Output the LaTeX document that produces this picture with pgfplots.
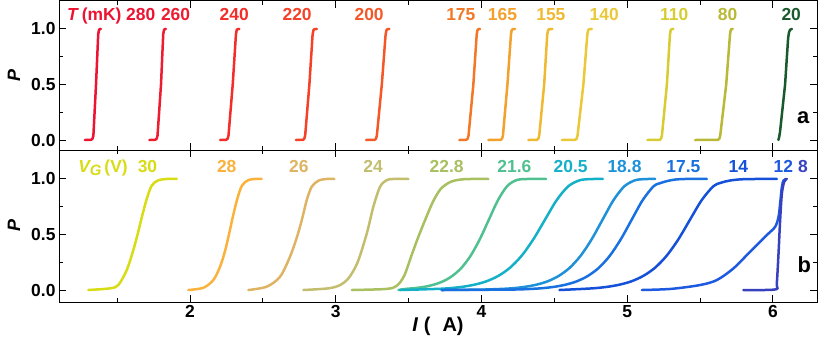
\documentclass[border=0pt]{standalone}
\usepackage{fontspec}
\setmainfont{Liberation Sans}
\usepackage{pgfplots}
\pgfplotsset{compat=1.18}

% curve colours, panel a (temperature) and panel b (gate voltage)
\definecolor{a280}{RGB}{236,20,50}
\definecolor{a260}{RGB}{238,28,48}
\definecolor{a240}{RGB}{242,45,42}
\definecolor{a220}{RGB}{244,65,40}
\definecolor{a200}{RGB}{245,88,40}
\definecolor{a175}{RGB}{242,120,40}
\definecolor{a165}{RGB}{243,160,45}
\definecolor{a155}{RGB}{240,185,50}
\definecolor{a140}{RGB}{235,200,55}
\definecolor{a110}{RGB}{215,205,50}
\definecolor{a80}{RGB}{185,185,55}
\definecolor{a20}{RGB}{25,90,45}
\definecolor{b30}{RGB}{215,220,20}
\definecolor{b28}{RGB}{250,178,60}
\definecolor{b26}{RGB}{222,180,100}
\definecolor{b24}{RGB}{195,190,110}
\definecolor{b228}{RGB}{168,192,96}
\definecolor{b216}{RGB}{80,192,144}
\definecolor{b205}{RGB}{20,176,200}
\definecolor{b188}{RGB}{30,145,216}
\definecolor{b175}{RGB}{25,112,224}
\definecolor{b14}{RGB}{20,80,216}
\definecolor{b12}{RGB}{30,90,224}
\definecolor{b8}{RGB}{55,65,192}

\newcommand{\lbl}{\fontsize{17.5}{20}\selectfont\bfseries}

\pgfplotsset{
  panel/.style={
    scale only axis, width=758bp,
    xmin=1.101, xmax=6.302,
    xtick={2,3,4,5,6}, minor xtick={1.5,2.5,3.5,4.5,5.5},
    ytick={0,0.5,1}, minor ytick={0.25,0.75},
    tick pos=both, tick align=inside,
    major tick length=7bp, minor tick length=4bp,
    every tick/.style={black, line width=1bp},
    axis line style={line width=1bp},
    /pgf/number format/assume math mode=true,
    tick label style={font=\lbl},
    yticklabel style={/pgf/number format/.cd, fixed, fixed zerofill, precision=1},
    ylabel={\textit{P}},
    ylabel style={font=\fontsize{18}{20}\selectfont\bfseries, at={(axis description cs:-0.0594,0.5)}, anchor=center},
    every axis plot/.append style={line width=2.5bp, line join=round, line cap=round, no markers},
  }
}

\begin{document}
\begin{tikzpicture}
\useasboundingbox (0,0) rectangle (830bp,-343bp);

% ---- panel a ----
\begin{axis}[panel, at={(59bp,-1bp)}, anchor=north west,
  height=149bp, ymin=-0.090, ymax=1.252, xticklabels={}]
\addplot[a280] coordinates {(1.279,0) (1.322,0.002) (1.331,0.012) (1.337,0.04) (1.355,0.5) (1.370,0.95) (1.375,0.99) (1.381,0.999) (1.389,1)};
\addplot[a260] coordinates {(1.721,0) (1.762,0.002) (1.771,0.012) (1.777,0.04) (1.801,0.5) (1.816,0.95) (1.821,0.99) (1.827,0.999) (1.835,1)};
\addplot[a240] coordinates {(2.206,0) (2.249,0.002) (2.258,0.012) (2.264,0.04) (2.293,0.5) (2.315,0.95) (2.320,0.99) (2.327,0.999) (2.338,1)};
\addplot[a220] coordinates {(2.727,0) (2.775,0.002) (2.784,0.012) (2.790,0.04) (2.819,0.5) (2.841,0.95) (2.847,0.99) (2.855,0.999) (2.870,1)};
\addplot[a200] coordinates {(3.208,0) (3.267,0.002) (3.276,0.012) (3.282,0.04) (3.316,0.5) (3.342,0.95) (3.348,0.99) (3.355,0.999) (3.368,1)};
\addplot[a175] coordinates {(3.848,0) (3.896,0.002) (3.905,0.012) (3.911,0.04) (3.944,0.5) (3.967,0.95) (3.972,0.99) (3.979,0.999) (3.990,1)};
\addplot[a165] coordinates {(4.047,0) (4.132,0.002) (4.141,0.012) (4.147,0.04) (4.178,0.5) (4.202,0.95) (4.207,0.99) (4.215,0.999) (4.230,1)};
\addplot[a155] coordinates {(4.322,0) (4.381,0.002) (4.390,0.012) (4.396,0.04) (4.430,0.5) (4.451,0.95) (4.457,0.99) (4.466,0.999) (4.486,1)};
\addplot[a140] coordinates {(4.551,0) (4.644,0.002) (4.653,0.012) (4.659,0.04) (4.699,0.5) (4.726,0.95) (4.732,0.99) (4.741,0.999) (4.757,1)};
\addplot[a110] coordinates {(5.138,0) (5.223,0.002) (5.232,0.012) (5.238,0.04) (5.272,0.5) (5.293,0.95) (5.298,0.99) (5.305,0.999) (5.317,1)};
\addplot[a80] coordinates {(5.466,0) (5.623,0.002) (5.632,0.012) (5.638,0.04) (5.679,0.5) (5.705,0.95) (5.710,0.99) (5.716,0.999) (5.724,1)};
\addplot[a20] coordinates {(6.037,0) (6.042,0.025) (6.048,0.07) (6.083,0.5) (6.104,0.92) (6.110,0.97) (6.117,0.993) (6.130,1)};

\node[text=a280, font=\lbl, anchor=base] at (axis cs:1.343,1.072) {\textit{T}\,(mK)};
\node[text=a280, font=\lbl, anchor=base] at (axis cs:1.662,1.072) {280};
\node[text=a260, font=\lbl, anchor=base] at (axis cs:1.901,1.072) {260};
\node[text=a240, font=\lbl, anchor=base] at (axis cs:2.303,1.072) {240};
\node[text=a220, font=\lbl, anchor=base] at (axis cs:2.735,1.072) {220};
\node[text=a200, font=\lbl, anchor=base] at (axis cs:3.229,1.072) {200};
\node[text=a175, font=\lbl, anchor=base] at (axis cs:3.858,1.072) {175};
\node[text=a165, font=\lbl, anchor=base] at (axis cs:4.144,1.072) {165};
\node[text=a155, font=\lbl, anchor=base] at (axis cs:4.476,1.072) {155};
\node[text=a140, font=\lbl, anchor=base] at (axis cs:4.842,1.072) {140};
\node[text=a110, font=\lbl, anchor=base] at (axis cs:5.322,1.072) {110};
\node[text=a80, font=\lbl, anchor=base] at (axis cs:5.688,1.072) {80};
\node[text=a20, font=\lbl, anchor=base] at (axis cs:6.125,1.072) {20};
\node[font=\fontsize{22}{24}\selectfont\bfseries] at (axis cs:6.208,0.20) {a};
\end{axis}

% ---- panel b ----
\begin{axis}[panel, at={(59bp,-150bp)}, anchor=north west,
  height=152bp, ymin=-0.108, ymax=1.261,
  every axis plot/.append style={smooth},
  xlabel={\textit{I} (\phantom{μ}A)},
  xlabel style={font=\fontsize{20}{22}\selectfont\bfseries, at={(axis description cs:0.5,-0.197)}, anchor=base}]
\addplot[b30] coordinates {(1.302,0) (1.451,0.015) (1.508,0.045) (1.566,0.18) (1.611,0.36) (1.640,0.50) (1.670,0.66) (1.703,0.82) (1.737,0.94) (1.782,0.988) (1.840,1) (1.909,1)};
\addplot[b28] coordinates {(1.988,0) (2.091,0.02) (2.160,0.09) (2.206,0.21) (2.240,0.35) (2.267,0.50) (2.294,0.66) (2.322,0.81) (2.356,0.94) (2.400,0.99) (2.446,1) (2.492,1)};
\addplot[b26] coordinates {(2.400,0) (2.526,0.03) (2.618,0.12) (2.686,0.30) (2.732,0.47) (2.767,0.63) (2.801,0.81) (2.835,0.93) (2.881,0.985) (2.938,1) (2.990,1)};
\addplot[b24] coordinates {(2.778,0) (2.950,0.015) (3.030,0.045) (3.090,0.11) (3.150,0.25) (3.213,0.51) (3.258,0.75) (3.304,0.93) (3.350,0.99) (3.395,1) (3.498,1)};
\addplot[b228] coordinates {(3.110,0) (3.350,0.01) (3.420,0.04) (3.470,0.13) (3.522,0.32) (3.567,0.48) (3.613,0.63) (3.665,0.79) (3.720,0.91) (3.790,0.975) (3.880,0.998) (4.047,1)};
\addplot[b216] coordinates {(3.430,0) (3.4875,0.011) (3.550,0.018) (3.6125,0.030) (3.675,0.049) (3.7375,0.079) (3.800,0.127) (3.8625,0.200) (3.925,0.308) (3.9875,0.455) (4.050,0.632) (4.1125,0.808) (4.175,0.934) (4.2375,0.989) (4.300,0.9994) (4.443,1)};
\addplot[b205] coordinates {(3.441,0) (3.555,0.004) (3.715,0.011) (3.795,0.018) (3.875,0.030) (3.955,0.049) (4.035,0.079) (4.115,0.127) (4.195,0.200) (4.275,0.308) (4.355,0.455) (4.435,0.632) (4.515,0.808) (4.595,0.934) (4.675,0.989) (4.755,0.9994) (4.832,1)};
\addplot[b188] coordinates {(3.727,0) (4.005,0.004) (4.155,0.011) (4.230,0.018) (4.305,0.030) (4.380,0.049) (4.455,0.079) (4.530,0.127) (4.605,0.200) (4.680,0.308) (4.755,0.455) (4.830,0.632) (4.905,0.808) (4.980,0.934) (5.055,0.989) (5.130,0.9994) (5.192,1)};
\addplot[b175] coordinates {(3.727,0) (4.205,0.004) (4.355,0.011) (4.430,0.018) (4.505,0.030) (4.580,0.049) (4.655,0.079) (4.730,0.127) (4.805,0.200) (4.880,0.308) (4.955,0.455) (5.030,0.632) (5.105,0.808) (5.180,0.934) (5.220,0.96) (5.270,0.98) (5.330,0.995) (5.400,1) (5.546,1)};
\addplot[b14] coordinates {(4.535,0) (4.710,0.011) (4.790,0.018) (4.870,0.030) (4.950,0.049) (5.030,0.079) (5.110,0.127) (5.190,0.200) (5.270,0.308) (5.350,0.455) (5.430,0.632) (5.510,0.808) (5.590,0.934) (5.640,0.965) (5.700,0.985) (5.780,0.997) (5.889,1) (6.026,1)};
\addplot[b12] coordinates {(5.100,0) (5.300,0.01) (5.500,0.045) (5.615,0.09) (5.729,0.195) (5.843,0.345) (5.958,0.495) (6.015,0.57) (6.038,0.66) (6.049,0.78) (6.061,0.93) (6.072,0.985) (6.090,1)};
\addplot[b8] coordinates {(5.797,0) (6.015,0.005) (6.026,0.06) (6.038,0.33) (6.049,0.63) (6.061,0.87) (6.077,0.975) (6.095,1)};

\node[text=b30, font=\lbl, anchor=base] at (axis cs:1.403,1.055) {\textit{V\raisebox{-0.3ex}{\fontsize{15}{15}\selectfont G}}\,(V)};
\node[text=b30, font=\lbl, anchor=base] at (axis cs:1.708,1.055) {30};
\node[text=b28, font=\lbl, anchor=base] at (axis cs:2.252,1.055) {28};
\node[text=b26, font=\lbl, anchor=base] at (axis cs:2.747,1.055) {26};
\node[text=b24, font=\lbl, anchor=base] at (axis cs:3.256,1.055) {24};
\node[text=b228, font=\lbl, anchor=base] at (axis cs:3.761,1.055) {22.8};
\node[text=b216, font=\lbl, anchor=base] at (axis cs:4.226,1.055) {21.6};
\node[text=b205, font=\lbl, anchor=base] at (axis cs:4.612,1.055) {20.5};
\node[text=b188, font=\lbl, anchor=base] at (axis cs:4.981,1.055) {18.8};
\node[text=b175, font=\lbl, anchor=base] at (axis cs:5.385,1.055) {17.5};
\node[text=b14, font=\lbl, anchor=base] at (axis cs:5.762,1.055) {14};
\node[text=b12, font=\lbl, anchor=base] at (axis cs:6.071,1.055) {12};
\node[text=b8, font=\lbl, anchor=base] at (axis cs:6.205,1.055) {8};
\node[font=\fontsize{22}{24}\selectfont\bfseries] at (axis cs:6.215,0.23) {b};
\end{axis}
\end{tikzpicture}
\end{document}
